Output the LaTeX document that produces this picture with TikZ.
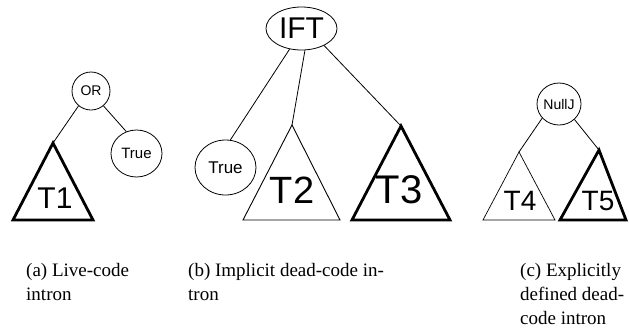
\documentclass[tikz,border=0pt]{standalone}
\usepackage{fontspec}
\setmainfont{Liberation Serif}
\newfontfamily\labelfont{Liberation Sans}
\usetikzlibrary{shapes.geometric}

\tikzset{
  op/.style={draw, ellipse, line width=0.8pt, inner sep=0pt, font=\labelfont},
  edge/.style={line width=0.8pt},
  subtree/.style={line join=miter},
  thinsub/.style={subtree, line width=0.9pt},
  thicksub/.style={subtree, line width=2.8pt},
  tlabel/.style={inner sep=0pt, font=\labelfont},
  caption/.style={inner sep=0pt, anchor=north west, align=left,
    font=\fontsize{19}{24}\selectfont},
}

\begin{document}
\begin{tikzpicture}[x=1pt, y=-1pt]
  \useasboundingbox (0,0) rectangle (629,330);

  % (a) live-code intron
  \node[op, minimum width=38pt, minimum height=38pt, font=\labelfont\fontsize{14}{14}\selectfont] (or) at (91,91) {OR};
  \node[op, minimum width=51pt, minimum height=47pt, font=\labelfont\fontsize{15}{15}\selectfont] (truea) at (136.5,153.5) {True};
  \coordinate (t1) at (53,143);
  \draw[thicksub] (t1) -- (13,220) -- (93,220) -- cycle;
  \node[tlabel, font=\labelfont\fontsize{30}{30}\selectfont] (l1) at (55,198) {T1};
  \draw[edge] (or.-130) -- (t1);
  \draw[edge] (or.-50) -- (truea.115);

  % (b) implicit dead-code intron
  \node[op, minimum width=71pt, minimum height=43pt, font=\labelfont\fontsize{30}{30}\selectfont] (ift) at (301.5,28.5) {IFT};
  \node[op, minimum width=61pt, minimum height=55pt, font=\labelfont\fontsize{17}{17}\selectfont] (trueb) at (225.5,167.5) {True};
  \coordinate (t2) at (292,125);
  \coordinate (t3) at (401,126);
  \draw[thinsub] (t2) -- (243,220) -- (340,220) -- cycle;
  \draw[thicksub] (t3) -- (352,220) -- (450,220) -- cycle;
  \node[tlabel, font=\labelfont\fontsize{38}{38}\selectfont] (l2) at (292,190) {T2};
  \node[tlabel, font=\labelfont\fontsize{40}{40}\selectfont] (l3) at (399,190) {T3};
  \draw[edge] (ift.-120) -- (trueb.80);
  \draw[edge] (ift.-81) -- (t2);
  \draw[edge] (ift.-37) -- (t3);

  % (c) explicitly defined dead-code intron
  \node[op, minimum width=42pt, minimum height=42pt, font=\labelfont\fontsize{14}{14}\selectfont] (nullj) at (559,104) {NullJ};
  \coordinate (t4) at (519,152);
  \coordinate (t5) at (599,150);
  \draw[thinsub, line width=0.7pt] (t4) -- (483,220) -- (555,220) -- cycle;
  \draw[thicksub] (t5) -- (560,220) -- (626,220) -- cycle;
  \node[tlabel, font=\labelfont\fontsize{28}{28}\selectfont] (l4) at (520,201) {T4};
  \node[tlabel, font=\labelfont\fontsize{28}{28}\selectfont] (l5) at (598,201) {T5};
  \draw[edge] (nullj.-140) -- (t4);
  \draw[edge] (nullj.-45) -- (t5);

  % sub-captions
  \node[caption] (capa) at (26,263) {(a) Live-code\\intron};
  \node[caption] (capb) at (188,263) {(b) Implicit dead-code in-\\tron};
  \node[caption] (capc) at (520,263) {(c) Explicitly\\defined dead-\\code intron};
\end{tikzpicture}
\end{document}
